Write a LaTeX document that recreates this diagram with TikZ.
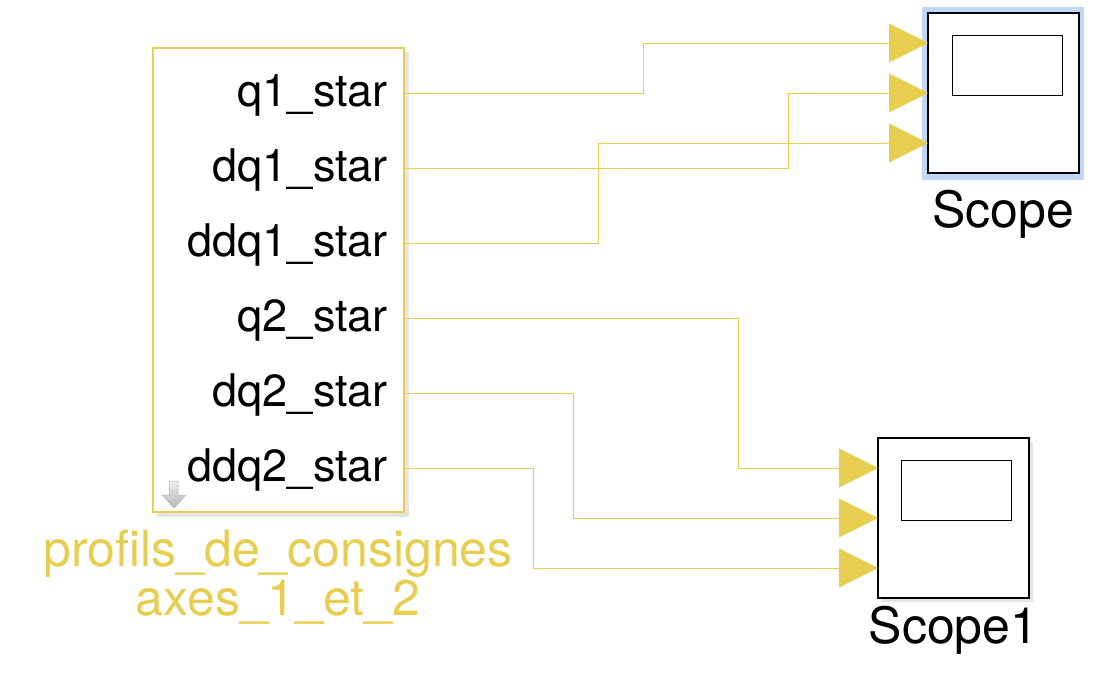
\documentclass[tikz,border=0pt]{standalone}
\usepackage{fontspec}
\setmainfont{TeX Gyre Heros}
\usetikzlibrary{arrows.meta}
\definecolor{simyellow}{RGB}{232,206,80}
\definecolor{selblue}{RGB}{192,216,245}
\tikzset{
  sig/.style={draw=simyellow, line width=0.9pt, -{Triangle[length=39pt,width=39pt]}, fill=none},
  portlbl/.style={anchor=base east, inner sep=0pt, font=\fontsize{45}{50}\selectfont},
  blockname/.style={font=\fontsize{50}{49}\selectfont, align=center, inner sep=0pt},
  scopebox/.style={draw=black, line width=2.5pt, fill=white, minimum width=151pt, minimum height=160pt, inner sep=0pt},
  screen/.style={draw=black, line width=1pt, minimum width=110pt, minimum height=60pt, inner sep=0pt}
}
\begin{document}
\begin{tikzpicture}[x=1pt,y=-1pt]
    \useasboundingbox (0,0) rectangle (1100,688);
    % subsystem block
    \fill[black!10] (157,52) rectangle (409,517);
    \node[draw=simyellow, line width=2.5pt, fill=white, minimum width=251pt, minimum height=464pt, inner sep=0pt] (prof) at (278.5,280) {};
    \foreach \n/\y/\t in {1/93/q1\_star, 2/168/dq1\_star, 3/243/ddq1\_star, 4/318/q2\_star, 5/393/dq2\_star, 6/468/ddq2\_star} {
        \coordinate (o\n) at (404,\y);
        \node[portlbl] (l\n) at (388,\y+13) {\t};
    }
    \shade[top color=gray!15, bottom color=gray!55, draw=gray!60, line width=0.5pt] (169,481) -- (178,481) -- (178,495) -- (186,495) -- (174,508) -- (162,495) -- (169,495) -- cycle;
    \node[blockname, text=simyellow] (profname) at (278,577) {profils\_de\_consignes\\axes\_1\_et\_2};

    % scopes
    \draw[selblue, line width=6pt] (925,10) rectangle (1081,177);
    \node[scopebox] (scope) at (1003.5,93) {};
    \node[screen] (scr) at (1007,65) {};
    \node[blockname, anchor=base] (scopename) at (1003.5,227) {Scope};
    \fill[black!10] (882,442) rectangle (1033,602);
    \node[scopebox] (scope1) at (953.5,518) {};
    \node[screen] (scr1) at (956.5,490) {};
    \node[blockname, anchor=base] (scope1name) at (953.5,643) {Scope1};
    \coordinate (sa1) at (928,43);
    \coordinate (sa2) at (928,93);
    \coordinate (sa3) at (928,143);
    \coordinate (sb1) at (878,468);
    \coordinate (sb2) at (878,518);
    \coordinate (sb3) at (878,568);

    % signals
    \draw[sig] (o1) -- ++(239,0) |- (sa1);
    \draw[sig] (o2) -- ++(384,0) |- (sa2);
    \draw[sig] (o3) -- ++(194,0) |- (sa3);
    \draw[sig] (o4) -- ++(334,0) |- (sb1);
    \draw[sig] (o5) -- ++(169,0) |- (sb2);
    \draw[sig] (o6) -- ++(129,0) |- (sb3);
\end{tikzpicture}
\end{document}
